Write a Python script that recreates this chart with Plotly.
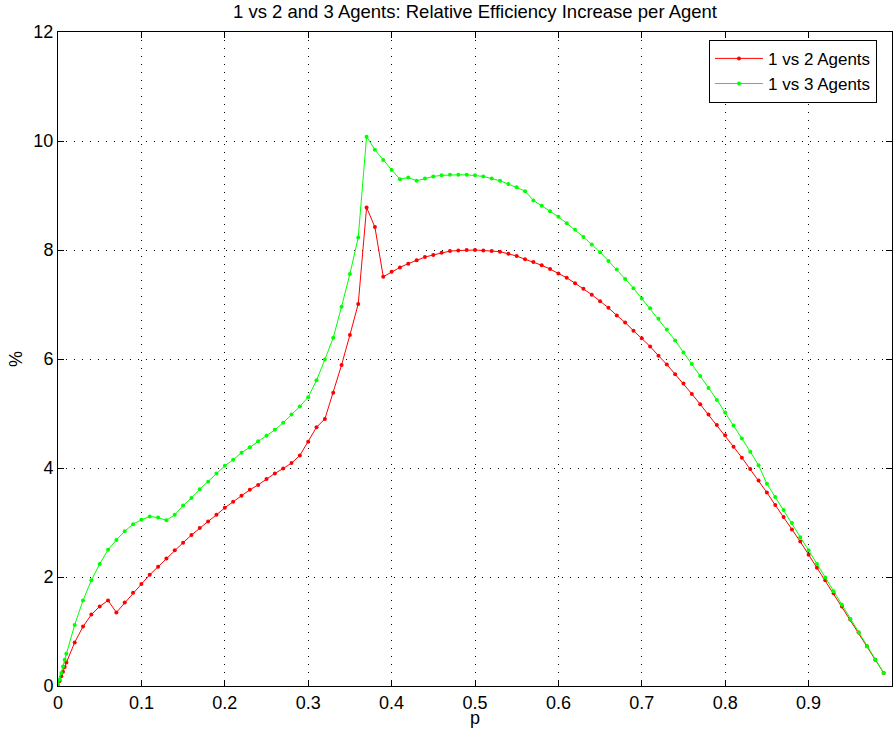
import plotly.graph_objects as go

# p values: a few dense points near zero, then steps of 0.01 up to 0.99
p = [0, 0.002, 0.004, 0.006, 0.008] + [round(0.01 * i, 2) for i in range(1, 100)]

two_agents = [
    0.02, 0.09, 0.18, 0.26, 0.35,
    0.43, 0.80, 1.09, 1.31, 1.46, 1.57, 1.35, 1.53, 1.71, 1.87,
    2.04, 2.19, 2.34, 2.49, 2.63, 2.77, 2.90, 3.02, 3.14, 3.27,
    3.38, 3.49, 3.60, 3.69, 3.80, 3.90, 3.99, 4.09, 4.23, 4.48,
    4.75, 4.90, 5.38, 5.89, 6.44, 7.01, 8.78, 8.42, 7.51, 7.60,
    7.68, 7.75, 7.81, 7.87, 7.91, 7.95, 7.98, 7.99, 8.00, 8.00,
    7.99, 7.98, 7.97, 7.93, 7.89, 7.83, 7.78, 7.72, 7.65, 7.57,
    7.49, 7.39, 7.29, 7.18, 7.06, 6.94, 6.80, 6.67, 6.52, 6.38,
    6.23, 6.06, 5.90, 5.72, 5.55, 5.36, 5.17, 4.98, 4.79, 4.60,
    4.39, 4.19, 3.98, 3.77, 3.55, 3.32, 3.10, 2.87, 2.65, 2.41,
    2.17, 1.94, 1.70, 1.46, 1.22, 0.98, 0.73, 0.48, 0.24,
]

three_agents = [
    0.02, 0.12, 0.24, 0.36, 0.48,
    0.59, 1.12, 1.57, 1.94, 2.24, 2.50, 2.68, 2.84, 2.97, 3.05,
    3.11, 3.09, 3.04, 3.14, 3.31, 3.45, 3.61, 3.75, 3.90, 4.04,
    4.15, 4.28, 4.38, 4.49, 4.59, 4.70, 4.83, 4.98, 5.13, 5.30,
    5.61, 5.99, 6.39, 6.96, 7.56, 8.23, 10.08, 9.84, 9.65, 9.47,
    9.30, 9.33, 9.27, 9.31, 9.35, 9.37, 9.38, 9.38, 9.38, 9.37,
    9.35, 9.31, 9.27, 9.21, 9.15, 9.08, 8.91, 8.81, 8.71, 8.61,
    8.49, 8.37, 8.24, 8.10, 7.96, 7.80, 7.64, 7.47, 7.30, 7.11,
    6.93, 6.74, 6.54, 6.34, 6.12, 5.91, 5.69, 5.47, 5.25, 5.02,
    4.78, 4.54, 4.30, 4.05, 3.71, 3.47, 3.23, 2.99, 2.73, 2.49,
    2.24, 1.99, 1.74, 1.49, 1.23, 0.98, 0.73, 0.48, 0.24,
]

x_ticks = [round(0.1 * i, 1) for i in range(11)]
x_tick_text = ["0", "0.1", "0.2", "0.3", "0.4", "0.5", "0.6", "0.7", "0.8", "0.9", "1"]
y_ticks = [0, 2, 4, 6, 8, 10, 12]

FONT = "Liberation Sans, Arial, sans-serif"

fig = go.Figure()

fig.add_trace(go.Scatter(
    x=p, y=two_agents, mode="lines+markers", name="1 vs 2 Agents",
    line=dict(color="#ff0000", width=1),
    marker=dict(color="#ff0000", size=4),
))
fig.add_trace(go.Scatter(
    x=p, y=three_agents, mode="lines+markers", name="1 vs 3 Agents",
    line=dict(color="#00ff00", width=1),
    marker=dict(color="#00ff00", size=4),
))

axis_common = dict(
    showline=True, linecolor="black", linewidth=1, mirror="ticks",
    ticks="inside", ticklen=6, tickcolor="black",
    showgrid=True, gridcolor="black", gridwidth=1, griddash="1px,7px",
    zeroline=False, automargin=False,
    tickfont=dict(family=FONT, size=18, color="black"),
)

fig.update_layout(
    width=894, height=740,
    paper_bgcolor="white", plot_bgcolor="white",
    margin=dict(l=58, r=2, t=32, b=54),
    title=dict(
        text="1 vs 2 and 3 Agents: Relative Efficiency Increase per Agent",
        x=0.5, xref="paper", y=0.985, yanchor="middle", pad=dict(t=0, b=0),
        font=dict(family=FONT, size=18.5, color="black"),
    ),
    xaxis=dict(
        range=[0, 1], tickvals=x_ticks, ticktext=x_tick_text,
        **axis_common,
    ),
    yaxis=dict(
        range=[0, 12], tickvals=y_ticks,
        title=dict(text="%", standoff=6, font=dict(family=FONT, size=18, color="black")),
        **axis_common,
    ),
    legend=dict(
        x=0.982, y=0.988, xanchor="right", yanchor="top",
        bgcolor="white", bordercolor="black", borderwidth=1,
        font=dict(family=FONT, size=17, color="black"),
        tracegroupgap=0, itemwidth=48,
    ),
    annotations=[dict(
        text="p", x=0.5, y=0, xref="paper", yref="paper",
        xanchor="center", yanchor="top", yshift=-20, showarrow=False,
        font=dict(family=FONT, size=18, color="black"),
    )],
)

# drop the page's default body margin so the figure sits at the top-left corner
fig.write_html(
    "out.html",
    config={"displayModeBar": False},
    post_script="document.body.style.margin = '0';",
)
